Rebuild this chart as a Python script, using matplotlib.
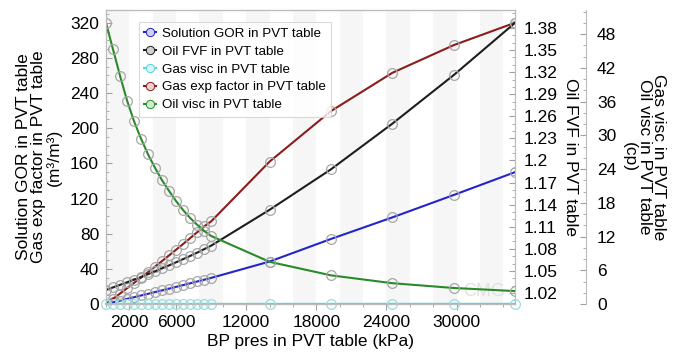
import matplotlib
matplotlib.use("Agg")
import matplotlib.pyplot as plt
from matplotlib.lines import Line2D
from matplotlib.ticker import MultipleLocator

plt.rcParams['font.family'] = ['Liberation Sans', 'DejaVu Sans']

# PVT table rows (kPa)
pres = [0, 600, 1200, 1800, 2400, 3000, 3600, 4200, 4800, 5400, 6000, 6600,
        7200, 7800, 8400, 9000, 14000, 19250, 24500, 29750, 35000]

sol_gor = [0, 1.9, 3.8, 5.8, 7.7, 9.7, 11.6, 13.6, 15.5, 17.5, 19.5, 21.5,
           23.5, 25.6, 27.6, 29.7, 48.3, 74, 98.5, 124, 150]
gas_exp = [0, 5.9, 11.9, 17.9, 24.0, 30.1, 36.3, 42.6, 48.9, 55.3, 61.8, 68.3,
           74.9, 81.6, 88.3, 94.0, 162, 219.5, 263, 294.5, 320]
oil_fvf = [1.024, 1.0275, 1.031, 1.0345, 1.038, 1.0417, 1.0455, 1.0495, 1.0535,
           1.0575, 1.0617, 1.066, 1.0703, 1.0748, 1.0795, 1.0843,
           1.133, 1.188, 1.25, 1.316, 1.387]
gas_visc = [0.0118, 0.0119, 0.0121, 0.0123, 0.0125, 0.0127, 0.013, 0.0132,
            0.0135, 0.0138, 0.0141, 0.0144, 0.0148, 0.0151, 0.0155, 0.0159,
            0.0195, 0.0235, 0.0272, 0.0305, 0.0335]
oil_visc = [50, 45.3, 40.6, 36.2, 32.5, 29.4, 26.6, 24.2, 22.0, 20.1, 18.3,
            16.7, 15.3, 14.1, 13.0, 12.1, 7.5, 5.1, 3.7, 2.85, 2.3]

x_ticks = [2000, 6000, 12000, 18000, 24000, 30000]

c_gor = '#2424cc'
c_fvf = '#1e1e1e'
c_gvisc = '#55d8d8'
c_gexp = '#8b1c1c'
c_ovisc = '#2a8a2a'
mk = dict(marker='o', ms=7, mfc='none', mec='#a6a6a6', mew=0.9, lw=1.5)

fig = plt.figure(figsize=(6.73, 3.53), dpi=100)
ax = fig.add_axes([106 / 673, 1 - 304 / 353, 409 / 673, 294 / 353])
ax2 = ax.twinx()
ax3 = ax.twinx()
ax3.spines['right'].set_position(('axes', 480 / 409))

# faint alternating bands behind the data
for x0 in range(0, 35000, 4000):
    ax.axvspan(x0, x0 + 2000, color='#f6f6f6', lw=0, zorder=0)

ax.plot(pres, sol_gor, color=c_gor, **mk, zorder=3)
ax.plot(pres, gas_exp, color=c_gexp, **mk, zorder=3)
ax2.plot(pres, oil_fvf, color=c_fvf, **mk)
ax3.plot(pres, gas_visc, color=c_gvisc, marker='o', ms=7, mfc='none',
         mec='#9adede', mew=0.9, lw=1.5, clip_on=False)
ax3.plot(pres, oil_visc, color=c_ovisc, **mk)

ax.text(0.975, 0.015, 'CMG', transform=ax.transAxes, ha='right', va='bottom',
        fontsize=13, color='#e0e0e0', zorder=1)

ax.set_xlim(0, 35000)
ax.set_ylim(0, 334.5)
ax2.set_ylim(1.005, 1.4045)
ax3.set_ylim(0, 52.3)

ax.set_xticks(x_ticks)
ax.xaxis.set_minor_locator(MultipleLocator(2000))
ax.set_yticks(range(0, 321, 40))
ax.yaxis.set_minor_locator(MultipleLocator(10))
ax2.set_yticks([1.02, 1.05, 1.08, 1.11, 1.14, 1.17, 1.2, 1.23, 1.26, 1.29, 1.32, 1.35, 1.38])
ax2.set_yticklabels(['1.02', '1.05', '1.08', '1.11', '1.14', '1.17', '1.2',
                     '1.23', '1.26', '1.29', '1.32', '1.35', '1.38'])
ax2.yaxis.set_minor_locator(MultipleLocator(0.01))
ax3.set_yticks(range(0, 49, 6))
ax3.yaxis.set_minor_locator(MultipleLocator(2))

fs = 12.5
spine_c = '#bcbcbc'
for a in (ax, ax2, ax3):
    for s in a.spines.values():
        s.set_color(spine_c)
        s.set_linewidth(0.8)
    a.tick_params(which='both', direction='in', color='#a0a0a0', labelsize=fs)
    a.tick_params(which='major', length=4)
    a.tick_params(which='minor', length=2)
ax3.spines['right'].set_linestyle((0, (2, 1)))
ax.tick_params(axis='x', which='both', direction='out', pad=4)
ax.tick_params(axis='y', pad=5)
ax2.tick_params(axis='y', pad=6)
ax3.tick_params(axis='y', pad=8)

ax.set_xlabel('BP pres in PVT table (kPa)', fontsize=fs, labelpad=3)
ax.set_ylabel('Solution GOR in PVT table\nGas exp factor in PVT table\n(m³/m³)',
              fontsize=fs, linespacing=1.0, labelpad=6)
ax2.set_ylabel('Oil FVF in PVT table', fontsize=fs, rotation=270, va='center')
ax2.yaxis.set_label_coords((570 - 106) / 409, 0.5)
ax3.set_ylabel('Gas visc in PVT table\nOil visc in PVT table\n(cp)', fontsize=fs,
               rotation=270, linespacing=1.0, va='center')
ax3.yaxis.set_label_coords((644 - 106) / 409, 0.5)

names = ['Solution GOR in PVT table', 'Oil FVF in PVT table', 'Gas visc in PVT table',
         'Gas exp factor in PVT table', 'Oil visc in PVT table']
fills = ['#d0d0f5', '#d0d0d0', '#d8f5f5', '#ecd0d0', '#d0ecd0']
cols = [c_gor, c_fvf, c_gvisc, c_gexp, c_ovisc]
handles = [Line2D([], [], color=c, lw=1.5, marker='o', ms=6, mfc=f, mec=c, mew=0.7)
           for c, f in zip(cols, fills)]
leg = ax3.legend(handles, names, loc='upper left', bbox_to_anchor=(33 / 409, 1 - 12 / 294),
                 fontsize=9.6, frameon=True, fancybox=False, handlelength=0.9,
                 handletextpad=0.4, labelspacing=0.42, borderpad=0.4, borderaxespad=0)
leg.get_frame().set_edgecolor('#d0d0d0')
leg.get_frame().set_linewidth(0.8)

fig.savefig('out.png', dpi=100)
